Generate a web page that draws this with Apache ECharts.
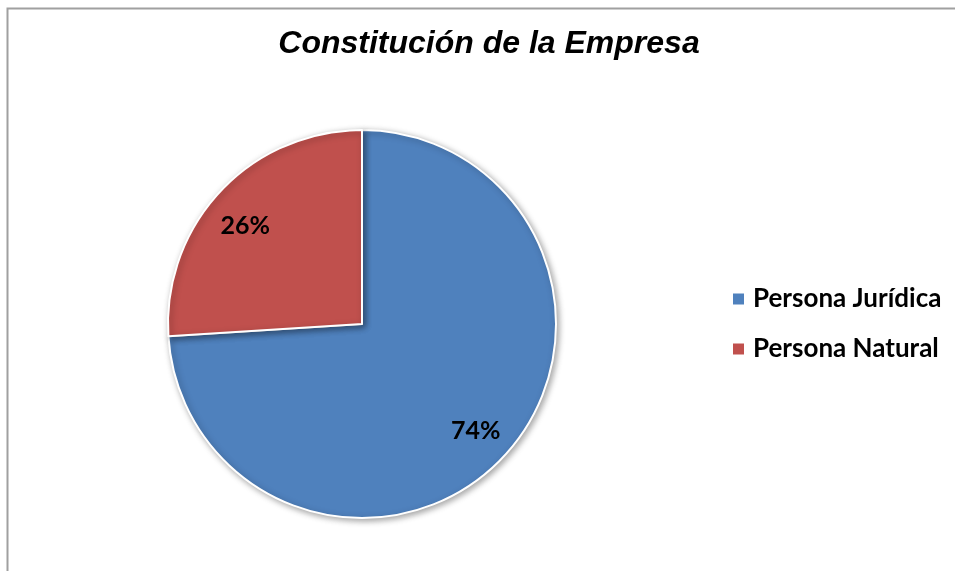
<!DOCTYPE html>
<html>
<head>
<meta charset="utf-8">
<script src="https://cdn.jsdelivr.net/npm/echarts@6/dist/echarts.min.js"></script>
<style>html,body{margin:0;padding:0;background:#fff;}#c{width:955px;height:571px;}</style>
</head>
<body>
<div id="c"></div>
<script>
const titleText = 'Constitución de la Empresa';
const categories = ['Persona Jurídica', 'Persona Natural'];
const values = [74, 26];
const colors = ['#4F81BD', '#C0504D'];

const labelOffsets = [[0, 0], [-3, 9]];

const data = categories.map((n, i) => ({ name: n, value: values[i], itemStyle: { color: colors[i] } }));

const chart = echarts.init(document.getElementById('c'), null, { renderer: 'canvas' });
chart.setOption({
  backgroundColor: '#fff',
  animation: false,
  graphic: [{
    type: 'rect',
    shape: { x: 7.5, y: 8.5, width: 1000, height: 700 },
    style: { fill: 'none', stroke: '#a0a0a0', lineWidth: 2 },
    silent: true, z: -10
  }],
  title: {
    text: titleText,
    left: 489, textAlign: 'center', top: 28, padding: 0,
    textStyle: { fontFamily: 'Liberation Sans, Arial', fontStyle: 'italic', fontWeight: 'bold', fontSize: 32, color: '#000' }
  },
  legend: {
    orient: 'vertical',
    left: 731, top: 284, padding: 0,
    itemWidth: 13, itemHeight: 13, itemGap: 20,
    icon: 'rect',
    textStyle: { fontFamily: 'Lato, Open Sans', fontWeight: 'bold', fontSize: 26, lineHeight: 30, color: '#000', padding: [0, 0, 0, 3] },
    data: categories
  },
  series: [{
    type: 'pie',
    center: [362, 324],
    radius: 194,
    startAngle: 90,
    clockwise: true,
    data: data,
    label: { show: false },
    labelLine: { show: false },
    itemStyle: { borderColor: '#fff', borderWidth: 2, shadowBlur: 6, shadowColor: 'rgba(0,0,0,0.35)', shadowOffsetX: 2, shadowOffsetY: 2 },
    emphasis: { disabled: true }
  }, {
    type: 'pie',
    center: [362, 324],
    radius: [112, 194],
    startAngle: 90,
    clockwise: true,
    silent: true,
    legendHoverLink: false,
    data: data.map((d, i) => ({ name: d.name, value: d.value, itemStyle: { color: 'rgba(0,0,0,0)' }, label: { offset: labelOffsets[i] } })),
    itemStyle: { borderWidth: 0 },
    label: {
      show: true, position: 'inside',
      formatter: p => Math.round(p.percent) + '%',
      fontFamily: 'Lato, Open Sans', fontWeight: 'bold', fontSize: 25, color: '#000'
    },
    labelLine: { show: false },
    emphasis: { disabled: true },
    z: 5
  }]
});
</script>
</body>
</html>
